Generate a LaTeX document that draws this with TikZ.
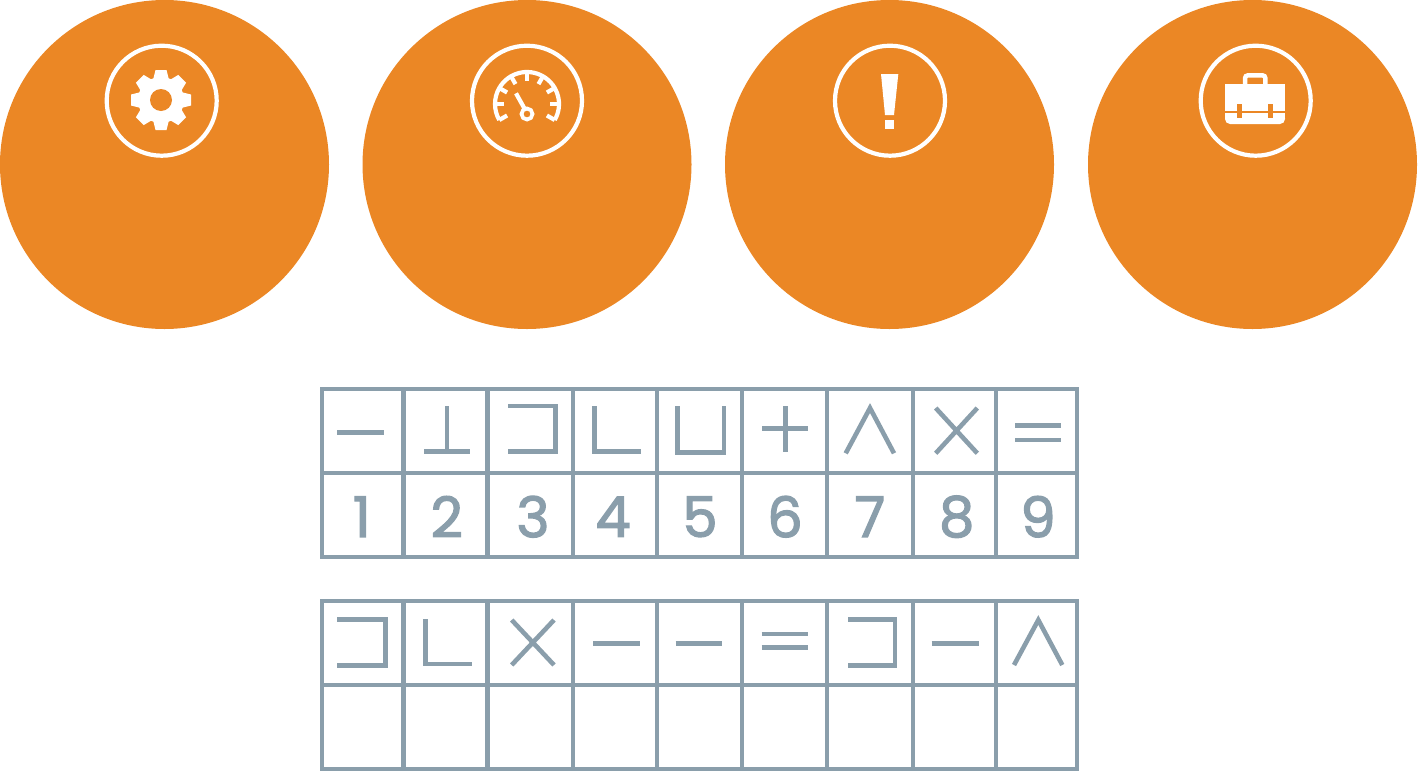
\documentclass[tikz,border=0pt]{standalone}
\usepackage{fontspec}
\setmainfont{Poppins}
\newfontfamily\digitfont{Poppins}[FakeBold=2.2]
\definecolor{discorange}{HTML}{EB8725}
\definecolor{gridgray}{HTML}{8A9EAB}
\begin{document}
\begin{tikzpicture}[x=1pt,y=-1pt,
 disc/.style={circle,fill=discorange,minimum size=329pt,inner sep=0pt},
 ring/.style={circle,draw=white,line width=4.2pt,minimum size=110pt,inner sep=0pt},
 grid/.style={draw=gridgray,line width=4.2pt},
 glyph/.style={draw=gridgray,line width=4.6pt},
 digit/.style={text=gridgray,font=\digitfont\fontsize{56}{56}\selectfont,inner sep=0pt},
 icon/.style={draw=white,line width=4.2pt}]
\useasboundingbox (0,0) rectangle (1418,774);
% top row
\node[disc] (gear) at (164.5,164.5) {};
\node[disc] (gauge) at (527,164.5) {};
\node[disc] (alert) at (889.5,164.5) {};
\node[disc] (case) at (1252.5,164.5) {};
\node[ring] (gearring) at (161.7,100.7) {};
\node[ring] (gaugering) at (527,100.7) {};
\node[ring] (alertring) at (890,100.7) {};
\node[ring] (casering) at (1255.7,100.7) {};
% gear
\begin{scope}[shift={(161,100)},y=1pt]
\fill[white] (0,0) circle (23);
\foreach \a in {0,45,...,315}
 \fill[white,rotate=\a] (20,-8) -- (30,-5.5) -- (30,5.5) -- (20,8) -- cycle;
\fill[discorange] (0,0) circle (11);
\end{scope}
% gauge
\begin{scope}[shift={(527,104)},y=1pt]
\draw[icon] (-30:32) arc (-30:210:32);
\foreach \a in {-30,0,...,210}
 \draw[icon] (\a:32) -- (\a:23);
\draw[icon] (-11,10.7) -- (-1.7,-6);
\draw[icon,line width=3.8pt] (0,-10) circle (5.5);
\end{scope}
% alert
\fill[white] (881,74) -- (898.3,74) -- (894,115) -- (885,115) -- cycle;
\fill[white] (885,120) rectangle (894.3,129.3);
% case
\draw[white,line width=4.5pt,rounded corners=3pt] (1245,85) -- (1245,75.3) -- (1265.4,75.3) -- (1265.4,85);
\fill[white] (1225,83.7) rectangle (1285,111.3);
\fill[white,rounded corners=5pt] (1225,113.3) -- (1285,113.3) -- (1285,124) -- (1225,124) -- cycle;
\fill[white] (1225,113.3) rectangle (1285,118);
\fill[discorange] (1237.3,103.7) rectangle (1241.7,118);
\fill[discorange] (1268.3,103.7) rectangle (1272.7,118);
% first table
\draw[grid] (322,389.3) rectangle (1076.7,557.3);
\draw[grid] (322,472.7) -- (1076.7,472.7);
\foreach \x in {403.5,487.5,572.7,657,742.3,826.7,912.7,996.3}
 \draw[grid] (\x,389.3) -- (\x,557.3);
% second table
\draw[grid] (322,601) rectangle (1076.7,769);
\draw[grid] (322,685) -- (1076.7,685);
\foreach \x in {403.5,487.5,572.7,657,742.3,826.7,912.7,996.3}
 \draw[grid] (\x,601) -- (\x,769);
% key glyphs
\draw[glyph] (337.3,432.3) -- (383.7,432.3);
\draw[glyph] (424,451.7) -- (470,451.7) (447,451.7) -- (447,406);
\draw[glyph] (508.3,406) -- (555.7,406) -- (555.7,451.7) -- (508.3,451.7);
\draw[glyph] (594.3,406) -- (594.3,451.7) -- (640.7,451.7);
\draw[glyph] (677.7,406) -- (677.7,452.7) -- (724,452.7) -- (724,406);
\draw[glyph] (762.3,428.7) -- (808.3,428.7) (785.3,406) -- (785.3,451.7);
\draw[glyph] (845.7,453.3) -- (870,408) -- (894,453.3);
\draw[glyph] (935.7,408) -- (977.3,453.3) (977.3,408) -- (935.7,453.3);
\draw[glyph] (1015,425.7) -- (1060.7,425.7) (1015,440) -- (1060.7,440);
% digits
\node[digit] (one) at (361.7,516.7) {1};
\node[digit] (two) at (446.7,516.7) {2};
\node[digit] (three) at (533,516.7) {3};
\node[digit] (four) at (613,516.7) {4};
\node[digit] (five) at (700,516.7) {5};
\node[digit] (six) at (785,516.7) {6};
\node[digit] (seven) at (870,516.7) {7};
\node[digit] (eight) at (956.7,516.7) {8};
\node[digit] (nine) at (1038,516.7) {9};
% puzzle glyphs
\draw[glyph] (337.3,619.3) -- (385.7,619.3) -- (385.7,665.7) -- (337.3,665.7);
\draw[glyph] (425.3,619) -- (425.3,664) -- (472,664);
\draw[glyph] (511.7,620) -- (554,665) (554,620) -- (511.7,665);
\draw[glyph] (593.3,643.3) -- (640,643.3);
\draw[glyph] (675.7,643.3) -- (722.3,643.3);
\draw[glyph] (761.7,634) -- (807.7,634) (761.7,647.7) -- (807.7,647.7);
\draw[glyph] (848.3,619.3) -- (895,619.3) -- (895,665.7) -- (848.3,665.7);
\draw[glyph] (931.7,643.3) -- (978.7,643.3);
\draw[glyph] (1014,665) -- (1038.3,620) -- (1062.3,665);
\end{tikzpicture}
\end{document}
